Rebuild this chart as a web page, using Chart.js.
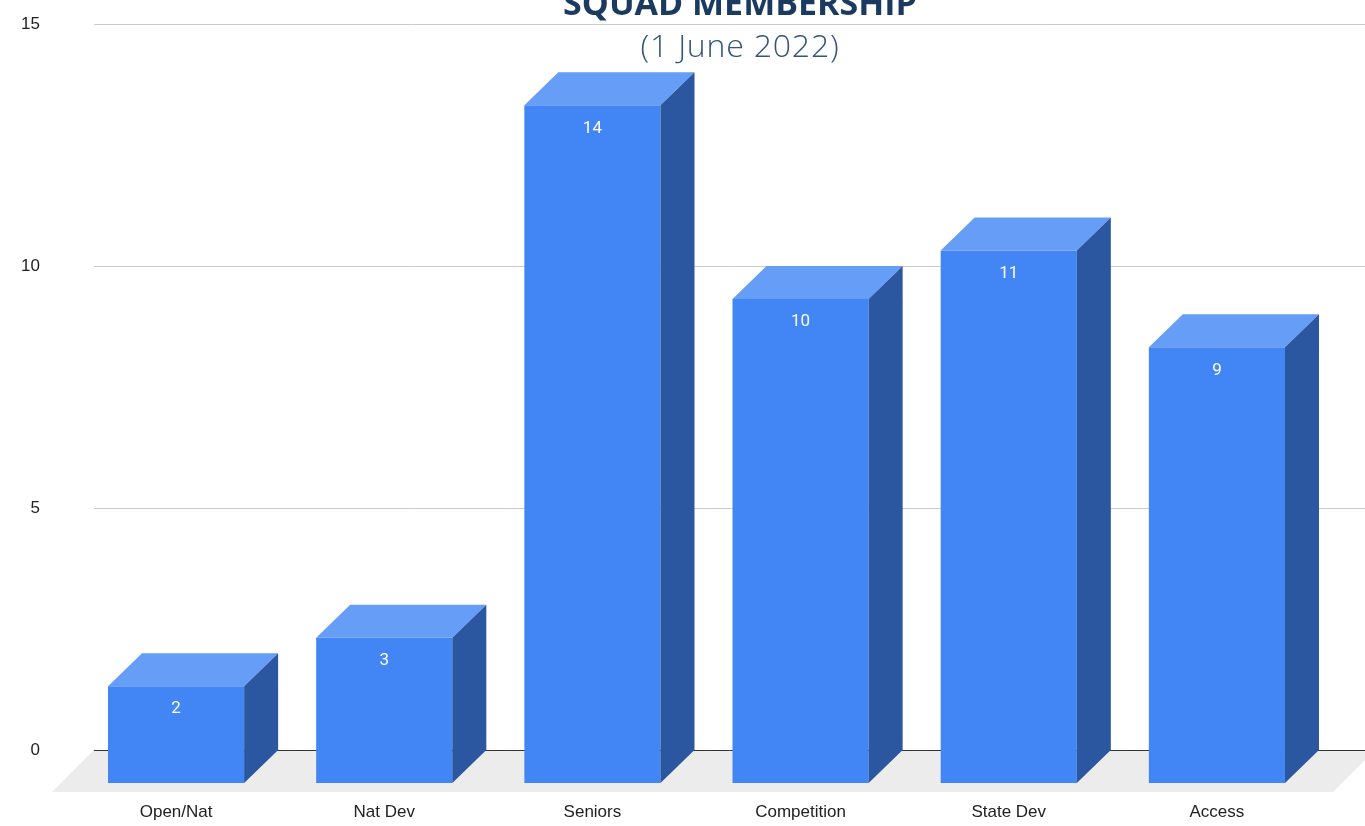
<!DOCTYPE html>
<html>
<head>
<meta charset="utf-8">
<script src="https://cdn.jsdelivr.net/npm/chart.js@4.4.0/dist/chart.umd.min.js"></script>
<style>
  body { margin: 0; background: #fff; }
  #wrap { position: relative; width: 1365px; height: 826px; overflow: hidden; }
  .title { position: absolute; left: 740px; transform: translateX(-50%); white-space: nowrap;
           font-family: "Open Sans", sans-serif; pointer-events: none; }
  #t1 { top: -15px; font-size: 34px; line-height: 34px; font-weight: 700; color: #1b3a5f; }
  #t2 { top: 29px; font-size: 32px; line-height: 32px; letter-spacing: 0.8px; font-weight: 300; color: #34547c; }
</style>
</head>
<body>
<div id="wrap">
  <canvas id="squadChart"></canvas>
  <div class="title" id="t1">SQUAD MEMBERSHIP</div>
  <div class="title" id="t2">(1 June 2022)</div>
</div>
<script>
const categories = ["Open/Nat", "Nat Dev", "Seniors", "Competition", "State Dev", "Access"];
const members = [2, 3, 14, 10, 11, 9];
const yTicks = [0, 5, 10, 15];

// depth of the fake 3d boxes
const DX = 34, DY = 33;

const threeD = {
  id: "threeD",
  beforeDatasetsDraw(chart) {
    const { ctx, chartArea, scales } = chart;
    const back = scales.yBack;
    const fy = scales.y.getPixelForValue(0) + 9;
    const y0 = back.getPixelForValue(0);
    const sh = fy - y0;
    const fl = chartArea.left - 20, fr = chartArea.right + 12;
    ctx.save();
    // floor
    ctx.fillStyle = "#ececec";
    ctx.beginPath();
    ctx.moveTo(fl, fy);
    ctx.lineTo(fr, fy);
    ctx.lineTo(fr + sh, y0);
    ctx.lineTo(fl + sh, y0);
    ctx.closePath();
    ctx.fill();
    // grid on back wall
    back.ticks.forEach(t => {
      const y = Math.round(back.getPixelForValue(t.value)) + 0.5;
      ctx.strokeStyle = t.value === 0 ? "#333" : "#cccccc";
      ctx.lineWidth = 1;
      ctx.beginPath();
      ctx.moveTo(fl + sh, y);
      ctx.lineTo(chart.width, y);
      ctx.stroke();
    });
    ctx.restore();
  },
  afterDatasetsDraw(chart) {
    const { ctx } = chart;
    const meta = chart.getDatasetMeta(0);
    ctx.save();
    meta.data.forEach((bar, i) => {
      const { x, y, width, base } = bar.getProps(["x", "y", "width", "base"], true);
      const l = x - width / 2, r = x + width / 2;
      ctx.fillStyle = "#669df6";
      ctx.beginPath();
      ctx.moveTo(l, y);
      ctx.lineTo(l + DX, y - DY);
      ctx.lineTo(r + DX, y - DY);
      ctx.lineTo(r, y);
      ctx.closePath();
      ctx.fill();
      ctx.fillStyle = "#2b56a0";
      ctx.beginPath();
      ctx.moveTo(r, y);
      ctx.lineTo(r + DX, y - DY);
      ctx.lineTo(r + DX, base - DY);
      ctx.lineTo(r, base);
      ctx.closePath();
      ctx.fill();
      ctx.fillStyle = "#ffffff";
      ctx.font = "17px Roboto, sans-serif";
      ctx.textAlign = "center";
      ctx.textBaseline = "middle";
      ctx.fillText(String(members[i]), x, y + 23);
    });
    ctx.restore();
  }
};

new Chart(document.getElementById("squadChart"), {
  type: "bar",
  data: {
    labels: categories,
    datasets: [{
      data: members,
      backgroundColor: "#4285f4",
      borderWidth: 0,
      categoryPercentage: 0.654,
      barPercentage: 1
    }]
  },
  options: {
    responsive: true,
    maintainAspectRatio: false,
    animation: false,
    layout: { autoPadding: false, padding: { top: 24, left: 21, right: 44, bottom: 4 } },
    plugins: {
      legend: { display: false },
      tooltip: { enabled: false }
    },
    scales: {
      x: {
        afterFit: s => { s.height = 39; },
        grid: { display: false, drawTicks: false },
        border: { display: false },
        ticks: { color: "#222", padding: 19, font: { family: "Liberation Sans, Arial", size: 17 } }
      },
      y: {
        display: false,
        min: 0,
        max: 15.68
      },
      yBack: {
        position: "left",
        min: -0.68,
        max: 15,
        afterBuildTicks: s => { s.ticks = yTicks.map(v => ({ value: v })); },
        afterFit: s => { s.width = 51; s.paddingTop = 0; s.paddingBottom = 0; },
        grid: { display: false, drawTicks: false },
        border: { display: false },
        ticks: { color: "#222", padding: 32, font: { family: "Liberation Sans, Arial", size: 17 } }
      }
    }
  },
  plugins: [threeD]
});
</script>
</body>
</html>
